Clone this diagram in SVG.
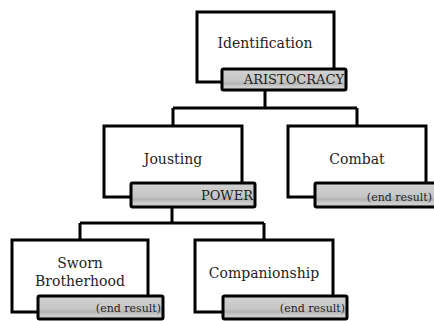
<svg xmlns="http://www.w3.org/2000/svg" width="434" height="321" viewBox="0 0 434 321">
<defs>
<linearGradient id="lg" x1="0" y1="0" x2="0" y2="1">
<stop offset="0" stop-color="#d2d2d2"/>
<stop offset="0.55" stop-color="#c6c6c6"/>
<stop offset="0.7" stop-color="#b4b4b4"/>
<stop offset="0.85" stop-color="#cfcfcf"/>
<stop offset="1" stop-color="#c8c8c8"/>
</linearGradient>
<style>
.box{fill:#fff;stroke:#000;stroke-width:3}
.lab{fill:url(#lg);stroke:#000;stroke-width:3}
.conn{fill:none;stroke:#000;stroke-width:3}
text{font-family:'DejaVu Serif',serif;fill:#1e1e1e}
.t{font-size:14px;text-anchor:middle}
.l{font-size:13px;text-anchor:end}
.e{font-size:11px;text-anchor:end}
</style>
</defs>
<g id="connectors">
<path class="conn" d="M265 90 V108 M173 108 H357 M173 108 V126 M357 108 V126"/>
<path class="conn" d="M172 207 V223 M80 223 H264 M80 223 V240 M264 223 V240"/>
</g>
<g id="identification">
<rect class="box" x="197" y="12" width="137" height="70"/>
<text class="t" x="265" y="48">Identification</text>
<rect class="lab" x="222" y="69" width="124" height="21" rx="1.5"/>
<text class="l" x="344" y="84">ARISTOCRACY</text>
</g>
<g id="jousting">
<rect class="box" x="104" y="126" width="138" height="71"/>
<text class="t" x="173" y="164">Jousting</text>
<rect class="lab" x="131" y="183" width="124" height="24" rx="1.5"/>
<text class="l" x="253" y="200">POWER</text>
</g>
<g id="combat">
<rect class="box" x="288" y="126" width="138" height="71"/>
<text class="t" x="357" y="164">Combat</text>
<rect class="lab" x="315" y="183" width="124" height="24" rx="1.5"/>
<text class="e" x="432" y="201">(end result)</text>
</g>
<g id="sworn">
<rect class="box" x="12" y="240" width="136" height="72"/>
<text class="t" x="80" y="268">Sworn</text>
<text class="t" x="80" y="286">Brotherhood</text>
<rect class="lab" x="38" y="296" width="125" height="23" rx="1.5"/>
<text class="e" x="161" y="312">(end result)</text>
</g>
<g id="companionship">
<rect class="box" x="195" y="240" width="138" height="72"/>
<text class="t" x="264" y="278">Companionship</text>
<rect class="lab" x="223" y="296" width="124" height="23" rx="1.5"/>
<text class="e" x="345" y="312">(end result)</text>
</g>
</svg>
